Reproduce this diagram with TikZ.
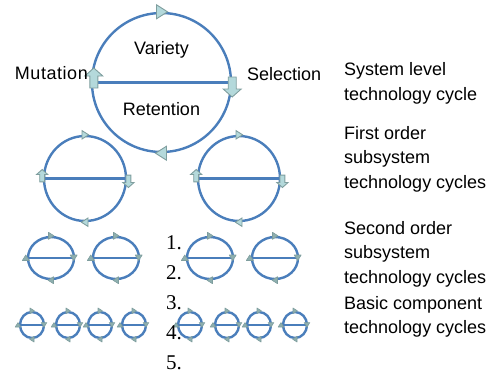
\documentclass[tikz,border=0pt]{standalone}
\usepackage{fontspec}
\setmainfont{Liberation Sans}
\newfontfamily\listfont{Liberation Serif}
\usetikzlibrary{shapes.geometric}

\definecolor{cycleblue}{HTML}{4A7EBB}
\definecolor{arrowfill}{HTML}{B4D9DB}
\definecolor{arrowedge}{HTML}{7F9E9E}
\definecolor{markfill}{HTML}{8EAFAF}

\tikzset{
  ring/.style={ellipse, draw=cycleblue, line width=2.4pt, inner sep=0pt},
  diam/.style={draw=cycleblue, line width=2.2pt},
  blockarrow/.style={draw=arrowedge, fill=arrowfill, line width=0.9pt, line join=miter},
  smallmark/.style={draw=arrowedge, fill=markfill, line width=0.6pt, line join=round},
  % triangle marker pointing right, centred on the origin
  tip/.pic={\path[blockarrow] (-5,-7) -- (6,0) -- (-5,7) -- cycle;},
  dot/.pic={\path[smallmark] (-5,-7) -- (6,0) -- (-5,7) -- cycle;},
  % block arrow pointing up, its base sitting across the diameter
  uparrow/.pic={\path[blockarrow] (-4,5.5) -- (-4,-6.5) -- (-9,-6.5) -- (0,-14.5)
                -- (9,-6.5) -- (4,-6.5) -- (4,5.5) -- cycle;},
  word/.style={font=\fontsize{18}{24.5}\selectfont, inner sep=0pt},
  side/.style={word, align=left, anchor=north west},
  num/.style={font=\listfont\fontsize{21}{30}\selectfont, inner sep=0pt, anchor=base west},
}

% ring with its diameter and the two horizontal-run markers
\newcommand\techring[6]{%
  \node[ring, minimum width=#4*2pt, minimum height=#5*2pt] (#1) at (#2,#3) {};
  \draw[diam] (#1.west) -- (#1.east);
  \pic[scale=#6] at (#1.north) {tip};
  \pic[scale=#6, xscale=-1] at (#1.south) {tip};
}
% small ring with triangle markers all round
\newcommand\minring[6]{%
  \node[ring, minimum width=#4*2pt, minimum height=#5*2pt] (#1) at (#2,#3) {};
  \draw[diam] (#1.west) -- (#1.east);
  \pic[scale=#6] at (#1.north) {dot};
  \pic[scale=#6, xscale=-1] at (#1.south) {dot};
  \pic[scale=#6, rotate=90, yshift=2pt] at (#1.west) {dot};
  \pic[scale=#6, rotate=-90, yshift=-3pt, xshift=-1pt] at (#1.east) {dot};
}

\begin{document}
\begin{tikzpicture}[x=1pt, y=-1pt]
\useasboundingbox (0,0) rectangle (493,376);

% system level cycle
\techring{sys}{161.5}{82.5}{69.5}{69.5}{1}
\pic[xshift=3pt] at (sys.west) {uparrow};
\pic[yscale=-1] at (sys.east) {uparrow};
\node[word, anchor=base] (variety) at (161.5,54) {Variety};
\node[word, anchor=base] (retention) at (161.5,115) {Retention};
\node[word, anchor=base east] (mutation) at (88,79) {\addfontfeature{LetterSpace=3}Mutation};
\node[word, anchor=base west] (selection) at (247,80.5) {Selection};

% first order subsystem cycles
\techring{fa}{85}{178.5}{41}{42.5}{0.6}
\techring{fb}{239}{178.5}{41}{42.5}{0.6}
\foreach \r in {fa,fb}{
  \pic[scale=0.62, xshift=-1pt] at (\r.west) {uparrow};
  \pic[scale=0.62, yscale=-1, xshift=2pt] at (\r.east) {uparrow};
}

% second order subsystem cycles
\minring{sa}{51}{258}{23}{21}{0.5}
\minring{sb}{116}{258}{23}{21}{0.5}
\minring{sc}{210}{258}{23}{21}{0.5}
\minring{sd}{275}{258}{23}{21}{0.5}

% basic component cycles
\minring{ba}{32}{325}{12}{13}{0.4}
\minring{bb}{68}{325}{12}{13}{0.4}
\minring{bc}{100}{325}{12}{13}{0.4}
\minring{bd}{134}{325}{12}{13}{0.4}
\minring{be}{190}{325}{12}{13}{0.4}
\minring{bf}{227}{325}{12}{13}{0.4}
\minring{bg}{259}{325}{12}{13}{0.4}
\minring{bh}{295}{325}{12}{13}{0.4}

% numbered list
\node[num] (n1) at (166,249) {1.};
\node[num] (n2) at (166,279) {2.};
\node[num] (n3) at (166,309) {3.};
\node[num] (n4) at (166,339) {4.};
\node[num] (n5) at (166,369) {5.};

% level captions
\node[side] (lsys) at (344,62.5) {System level\\technology cycle};
\node[side] (lfirst) at (344,126) {First order\\subsystem\\technology cycles};
\node[side] (lsecond) at (344,221) {Second order\\subsystem\\technology cycles};
\node[side] (lbasic) at (344,296) {Basic component\\technology cycles};
\end{tikzpicture}
\end{document}
